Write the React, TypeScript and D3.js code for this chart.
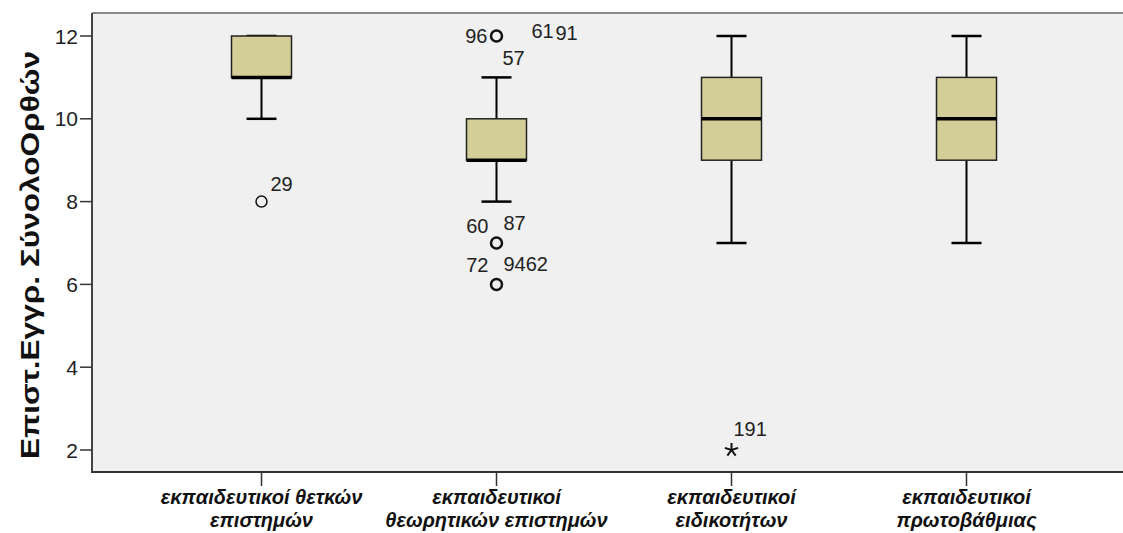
import React from "react";
import * as d3 from "d3";

const categories = [
  ["εκπαιδευτικοί θετκών", "επιστημών"],
  ["εκπαιδευτικοί", "θεωρητικών επιστημών"],
  ["εκπαιδευτικοί", "ειδικοτήτων"],
  ["εκπαιδευτικοί", "πρωτοβάθμιας"],
];
const q1 = [11, 9, 9, 9];
const medians = [11, 9, 10, 10];
const q3 = [12, 10, 11, 11];
const whiskerLow = [10, 8, 7, 7];
const whiskerHigh = [12, 11, 12, 12];
// outliers: [category index, value]
const outliers: [number, number][] = [
  [0, 8],
  [1, 12],
  [1, 7],
  [1, 6],
];
const extremes: [number, number][] = [[2, 2]];
// outlier labels: [category index, value, text]
const outlierLabels: [number, number, string][] = [
  [0, 8, "29"],
  [1, 12, "96"],
  [1, 12, "61"],
  [1, 12, "91"],
  [1, 12, "57"],
  [1, 7, "60"],
  [1, 7, "87"],
  [1, 6, "72"],
  [1, 6, "9462"],
  [2, 2, "191"],
];
// label placement offsets (style): dx, dy, anchor
const labelOffsets: [number, number, string][] = [
  [9, -11, "start"],
  [-9, 7, "end"],
  [35, 2, "start"],
  [59, 4, "start"],
  [6, 29, "start"],
  [-8, -10, "end"],
  [7, -13, "start"],
  [-8, -12, "end"],
  [7, -13, "start"],
  [2, -14, "start"],
];
const yTicks = [2, 4, 6, 8, 10, 12];
const yLabel = "Επιστ.Εγγρ. ΣύνολοΟρθών";

export default function App() {
  const W = 1123, H = 533;
  const left = 92, top = 13, right = 1123, bottom = 472;
  const y = d3.scaleLinear().domain([2, 12]).range([450, 36]);
  const x = d3
    .scaleBand<number>()
    .domain(d3.range(categories.length))
    .range([144, 1084])
    .paddingInner(0)
    .paddingOuter(0);
  const cx = (i: number) => (x(i) as number) + x.bandwidth() / 2;
  const bw = 60;
  const capHalf = 15;
  const font = "Arial, 'Liberation Sans', sans-serif";
  const starArms = d3.range(5).map((k) => (k * 2 * Math.PI) / 5);
  return (
    <svg width={W} height={H} style={{ position: "absolute", left: 0, top: 0 }}>
      <rect x={0} y={0} width={W} height={H} fill="#ffffff" />
      <rect x={left} y={top} width={right - left} height={bottom - top} fill="#f0f0f0" />
      <line x1={left} x2={right} y1={top} y2={top} stroke="#888" strokeWidth={2} />
      <line x1={left} x2={left} y1={top} y2={bottom} stroke="#444" strokeWidth={2} />
      <line x1={left - 1} x2={right} y1={bottom} y2={bottom} stroke="#333" strokeWidth={2} />
      {yTicks.map((t) => (
        <g key={t}>
          <line x1={80} x2={left} y1={y(t)} y2={y(t)} stroke="#333" strokeWidth={1.5} />
          <text x={78} y={y(t) + 7.5} textAnchor="end" fontFamily={font} fontSize={21} fill="#222">
            {t}
          </text>
        </g>
      ))}
      <text
        transform={`translate(39,255) rotate(-90)`}
        textAnchor="middle"
        fontFamily={font}
        fontWeight="bold"
        fontSize={25}
        textLength={408}
        lengthAdjust="spacingAndGlyphs"
        fill="#111"
      >
        {yLabel}
      </text>
      {categories.map((lines, i) => (
        <g key={i}>
          <line x1={cx(i)} x2={cx(i)} y1={bottom} y2={bottom + 14} stroke="#333" strokeWidth={1.5} />
          {lines.map((l, k) => (
            <text
              key={k}
              x={cx(i)}
              y={504 + k * 23}
              textAnchor="middle"
              fontFamily={font}
              fontWeight="bold"
              fontStyle="italic"
              fontSize={20}
              fill="#111"
            >
              {l}
            </text>
          ))}
        </g>
      ))}
      {categories.map((_, i) => (
        <g key={"b" + i}>
          <line x1={cx(i)} x2={cx(i)} y1={y(q1[i])} y2={y(whiskerLow[i])} stroke="#000" strokeWidth={2} />
          <line x1={cx(i)} x2={cx(i)} y1={y(q3[i])} y2={y(whiskerHigh[i])} stroke="#000" strokeWidth={2} />
          <line x1={cx(i) - capHalf} x2={cx(i) + capHalf} y1={y(whiskerLow[i])} y2={y(whiskerLow[i])} stroke="#000" strokeWidth={2.5} />
          <line x1={cx(i) - capHalf} x2={cx(i) + capHalf} y1={y(whiskerHigh[i])} y2={y(whiskerHigh[i])} stroke="#000" strokeWidth={2.5} />
          <rect
            x={cx(i) - bw / 2}
            y={y(q3[i])}
            width={bw}
            height={y(q1[i]) - y(q3[i])}
            fill="#d3ce98"
            stroke="#222"
            strokeWidth={1.5}
          />
          <line x1={cx(i) - bw / 2} x2={cx(i) + bw / 2} y1={y(medians[i])} y2={y(medians[i])} stroke="#000" strokeWidth={3.5} />
        </g>
      ))}
      {outliers.map(([i, v], k) => (
        <circle key={"o" + k} cx={cx(i)} cy={y(v)} r={5.5} fill="none" stroke="#111" strokeWidth={i === 1 ? 2.5 : 1.5} />
      ))}
      {extremes.map(([i, v], k) => (
        <g key={"e" + k} transform={`translate(${cx(i)},${y(v)})`}>
          {starArms.map((a, j) => (
            <line
              key={j}
              x1={0}
              y1={0}
              x2={7 * Math.sin(a)}
              y2={-7 * Math.cos(a)}
              stroke="#111"
              strokeWidth={2}
            />
          ))}
        </g>
      ))}
      {outlierLabels.map(([i, v, t], k) => {
        const [dx, dy, anchor] = labelOffsets[k];
        return (
          <text
            key={"l" + k}
            x={cx(i) + dx}
            y={y(v) + dy}
            textAnchor={anchor as any}
            fontFamily={font}
            fontSize={20}
            fill="#222"
          >
            {t}
          </text>
        );
      })}
    </svg>
  );
}
